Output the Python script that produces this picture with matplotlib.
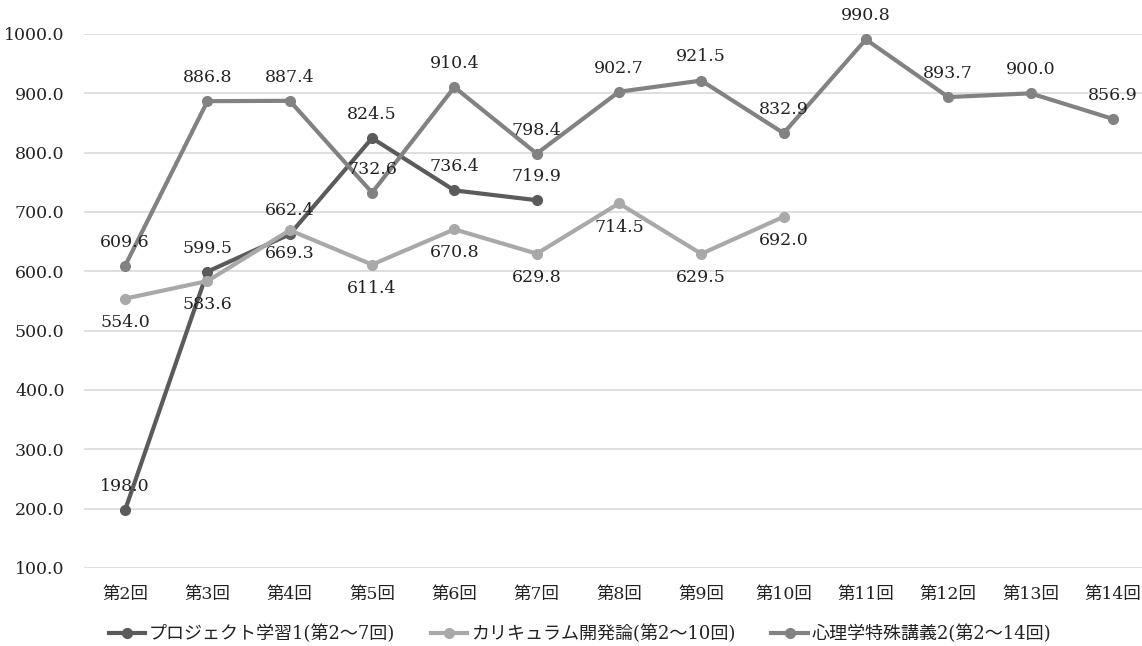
import matplotlib.pyplot as plt

plt.rcParams['font.family'] = ['DejaVu Serif', 'Noto Sans CJK JP']

# データ
categories = ['第2回', '第3回', '第4回', '第5回', '第6回', '第7回', '第8回',
              '第9回', '第10回', '第11回', '第12回', '第13回', '第14回']
project = [198.0, 599.5, 662.4, 824.5, 736.4, 719.9]
curriculum = [554.0, 583.6, 669.3, 611.4, 670.8, 629.8, 714.5, 629.5, 692.0]
psychology = [609.6, 886.8, 887.4, 732.6, 910.4, 798.4, 902.7, 921.5, 832.9,
              990.8, 893.7, 900.0, 856.9]
names = ['プロジェクト学習1(第2〜7回)', 'カリキュラム開発論(第2〜10回)', '心理学特殊講義2(第2〜14回)']

W, H = 1142, 646
fig = plt.figure(figsize=(W / 100, H / 100), dpi=100)
ax = fig.add_axes([84 / W, 1 - 568 / H, (1142 - 84) / W, (568 - 34) / H])

series = [
    (project, '#5b5b5b', 1),
    (curriculum, '#a9a9a9', -1),
    (psychology, '#828282', 1),
]
for (vals, col, side), name in zip(series, names):
    xs = list(range(len(vals)))
    ax.plot(xs, vals, color=col, lw=3, marker='o', ms=7, label=name, zorder=3)
    for x, v in zip(xs, vals):
        ax.annotate(f'{v:.1f}', (x, v), xytext=(0, 17 * side), textcoords='offset points',
                    ha='center', va='center', fontsize=12.5, color='#222222', zorder=4)

ax.set_ylim(100, 1000)
ax.set_xlim(-0.5, 12.5 - 12 / 82.3)
ax.set_yticks(range(100, 1001, 100))
ax.set_yticklabels([f'{v:.1f}' for v in range(100, 1001, 100)])
ax.set_xticks(range(len(categories)))
ax.set_xticklabels(categories)
ax.tick_params(length=0, labelsize=12.5, colors='#222222')
ax.tick_params(axis='x', pad=13)
ax.tick_params(axis='y', pad=14)
ax.grid(axis='y', color='#d9d9d9', lw=1.2)
ax.set_axisbelow(True)
for s in ax.spines.values():
    s.set_visible(False)

leg = fig.legend(loc='center', bbox_to_anchor=(580 / W, 1 - 634 / H), ncol=3,
                 frameon=False, fontsize=13, handlelength=2.0, columnspacing=2.0,
                 handletextpad=0.2)
for t in leg.get_texts():
    t.set_color('#222222')

fig.savefig('out.png', dpi=100)
